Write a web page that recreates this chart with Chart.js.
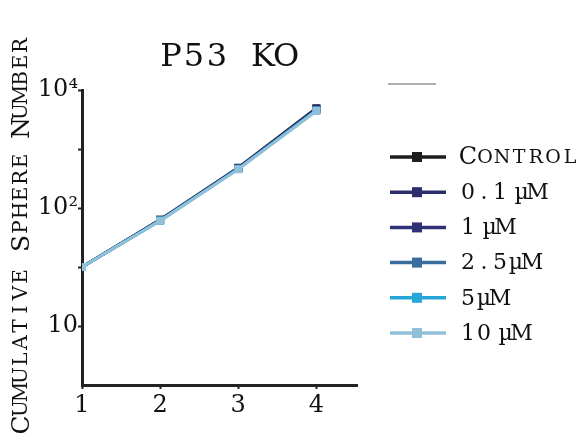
<!DOCTYPE html>
<html>
<head>
<meta charset="utf-8">
<script src="https://cdn.jsdelivr.net/npm/chart.js@4"></script>
<style>
  html, body { margin: 0; padding: 0; background: #fff; }
  #wrap { width: 582px; height: 435px; }
</style>
</head>
<body>
<div id="wrap"><canvas id="c" width="582" height="435"></canvas></div>
<script>
// passage (x) and cumulative sphere number per treatment
const passages = [1, 2, 3, 4];
const control = [10, 63, 480, 4900];
const dose01 = [10, 63, 475, 4800];
const dose1 = [10, 62, 470, 4700];
const dose25 = [10, 62, 465, 4600];
const dose5 = [10, 61, 460, 4500];
const dose10 = [10, 61, 455, 4400];

const seriesNames = ["Control", "0.1 \u00b5M", "1 \u00b5M", "2.5\u00b5M", "5\u00b5M", "10 \u00b5M"];
const seriesData = [control, dose01, dose1, dose25, dose5, dose10];
const seriesColors = ["#1e1e1e", "#2a2c6c", "#2f3177", "#3a6d9e", "#26a6d6", "#90c1d9"];

const yTickValues = [1, 10, 100, 1000, 10000];
const yTickLabels = ["10", "", "10\u00b2", "", "10\u2074"];
const xTickValues = [1, 2, 3, 4];

const SERIF = "'DejaVu Serif', 'Liberation Serif', serif";

// small caps text drawn one char at a time, fixed pitch
function drawSmallCaps(ctx, text, x, y, pitch, bigSize, smallSize) {
  for (let i = 0; i < text.length; i++) {
    const ch = text[i];
    const big = ch !== ch.toLowerCase() || /[0-9]/.test(ch);
    ctx.font = (big ? bigSize : smallSize) + "px " + SERIF;
    ctx.fillText(ch.toUpperCase(), x + i * pitch, y);
  }
}

// typewriter-ish text, spaces are narrow
function drawPitched(ctx, text, x, y, pitch, size) {
  ctx.font = size + "px " + SERIF;
  let cx = x;
  for (let i = 0; i < text.length; i++) {
    if (text[i] === " ") { cx += pitch * 0.35; continue; }
    ctx.fillText(text[i], cx, y);
    cx += pitch;
  }
}

const extras = {
  id: "extras",
  afterDraw(chart) {
    const ctx = chart.ctx;
    ctx.save();
    ctx.fillStyle = "#111";
    ctx.textBaseline = "middle";

    // title
    ctx.textAlign = "center";
    drawPitched(ctx, "P53", 171, 58, 23, 32);
    drawPitched(ctx, "KO", 263, 58, 23, 32);

    // y axis title, rotated, small caps
    ctx.save();
    ctx.translate(22, 433);
    ctx.rotate(-Math.PI / 2);
    drawSmallCaps(ctx, "Cumulative Sphere Number", 8, 0, 16.5, 25, 20);
    ctx.restore();

    // stray grey line above legend
    ctx.strokeStyle = "#b0b0b0";
    ctx.lineWidth = 2;
    ctx.beginPath();
    ctx.moveTo(388, 84);
    ctx.lineTo(436, 84);
    ctx.stroke();

    // legend
    const y0 = 157, step = 35.2;
    seriesNames.forEach((name, i) => {
      const y = y0 + i * step;
      ctx.strokeStyle = seriesColors[i];
      ctx.lineWidth = 3.5;
      ctx.beginPath();
      ctx.moveTo(390, y);
      ctx.lineTo(446, y);
      ctx.stroke();
      ctx.fillStyle = seriesColors[i];
      ctx.fillRect(412, y - 5, 10, 10);
      ctx.fillStyle = "#111";
      ctx.textAlign = "center";
      if (i === 0) {
        drawSmallCaps(ctx, name, 468, y + 1, 17, 24, 19);
      } else {
        drawPitched(ctx, name, 468, y + 1, 16, 22);
      }
    });
    ctx.restore();
  }
};

const datasets = seriesNames.map((name, i) => ({
  label: name,
  data: passages.map((p, j) => ({ x: p, y: seriesData[i][j] })),
  borderColor: seriesColors[i],
  backgroundColor: seriesColors[i],
  borderWidth: 3,
  pointStyle: "rect",
  pointRadius: 3.5,
  order: seriesNames.length - i
}));

new Chart(document.getElementById("c"), {
  type: "line",
  data: { datasets },
  plugins: [extras],
  options: {
    responsive: false,
    animation: false,
    layout: { padding: { top: 90, right: 225, left: 0, bottom: 0 } },
    plugins: {
      legend: { display: false },
      tooltip: { enabled: false }
    },
    scales: {
      x: {
        type: "linear",
        min: 1,
        max: 4.52,
        afterBuildTicks: s => { s.ticks = xTickValues.map(v => ({ value: v })); },
        afterFit: s => { s.height = 50; },
        border: { display: true, width: 3, color: "#222" },
        grid: { drawOnChartArea: false, tickLength: 4, tickWidth: 2, tickColor: "#222" },
        ticks: {
          color: "#111",
          font: { family: SERIF, size: 24 },
          padding: 2,
          maxRotation: 0
        }
      },
      y: {
        type: "logarithmic",
        min: 0.1,
        max: 10000,
        afterBuildTicks: s => { s.ticks = yTickValues.map(v => ({ value: v })); },
        afterFit: s => { s.width = 82; },
        border: { display: true, width: 3, color: "#222" },
        grid: { drawOnChartArea: false, tickLength: 4, tickWidth: 2, tickColor: "#222" },
        ticks: {
          color: "#111",
          font: { family: SERIF, size: 24 },
          padding: 0,
          callback: (v, idx) => yTickLabels[idx]
        }
      }
    }
  }
});
</script>
</body>
</html>
